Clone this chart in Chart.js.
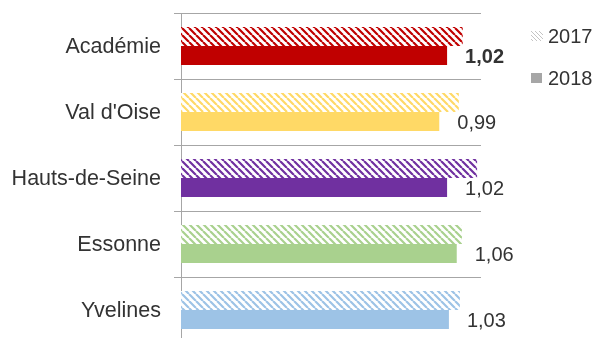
<!DOCTYPE html>
<html>
<head>
<meta charset="utf-8">
<script src="https://cdn.jsdelivr.net/npm/chart.js@4/dist/chart.umd.min.js"></script>
<style>
  html, body { margin: 0; padding: 0; background: #fff; overflow: hidden; }
  #wrap { width: 596px; height: 338px; overflow: hidden; }
</style>
</head>
<body>
<div id="wrap"><canvas id="c" width="596" height="350" style="width:596px;height:350px"></canvas></div>
<script>
const categories = ['Académie', "Val d'Oise", 'Hauts-de-Seine', 'Essonne', 'Yvelines'];
const seriesNames = ['2017', '2018'];
const values2017 = [1.08, 1.065, 1.135, 1.077, 1.069];
const values2018 = [1.02, 0.99, 1.02, 1.057, 1.027];
const barColors = ['#C00000', '#FFD966', '#7030A0', '#A9D18E', '#9DC3E6'];

const FONT = 'Liberation Sans, Arial, sans-serif';
const TEXT = '#333333';
const GRID = '#a6a6a6';

function hatch(color, lw, s) {
  const c = document.createElement('canvas');
  c.width = s; c.height = s;
  const g = c.getContext('2d');
  g.fillStyle = '#ffffff';
  g.fillRect(0, 0, s, s);
  g.strokeStyle = color;
  g.lineWidth = lw;
  g.beginPath();
  for (const k of [-s, 0, s]) {
    g.moveTo(k, 0);
    g.lineTo(k + s, s);
  }
  g.stroke();
  return g.createPattern(c, 'repeat');
}

const hatchPatterns = barColors.map(c => hatch(c, 2.2, 7));

const valueLabels = {
  id: 'valueLabels',
  afterDatasetsDraw(chart) {
    const ctx = chart.ctx;
    const meta = chart.getDatasetMeta(1);
    ctx.save();
    ctx.textAlign = 'left';
    ctx.textBaseline = 'middle';
    ctx.fillStyle = TEXT;
    meta.data.forEach((el, i) => {
      ctx.font = (i === 0 ? 'bold ' : '') + '20px ' + FONT;
      const txt = values2018[i].toFixed(2).replace('.', ',');
      ctx.fillText(txt, el.x + 18, el.y + 2);
    });
    ctx.restore();
  }
};

const sideLegend = {
  id: 'sideLegend',
  afterDraw(chart) {
    const ctx = chart.ctx;
    ctx.save();
    const x0 = 531;
    const ys = [36, 78];
    ctx.fillStyle = hatch('#c4c4c4', 1, 4);
    ctx.fillRect(x0, ys[0] - 5, 12, 10);
    ctx.fillStyle = GRID;
    ctx.fillRect(x0, ys[1] - 5, 11, 10);
    ctx.fillStyle = TEXT;
    ctx.font = '20px ' + FONT;
    ctx.textAlign = 'left';
    ctx.textBaseline = 'middle';
    seriesNames.forEach((n, i) => ctx.fillText(n, 548, ys[i] + 1));
    ctx.restore();
  }
};

new Chart(document.getElementById('c'), {
  type: 'bar',
  data: {
    labels: categories,
    datasets: [
      { label: seriesNames[0], data: values2017, backgroundColor: hatchPatterns,
        borderWidth: 0, categoryPercentage: 0.575, barPercentage: 1 },
      { label: seriesNames[1], data: values2018, backgroundColor: barColors,
        borderWidth: 0, categoryPercentage: 0.575, barPercentage: 1 }
    ]
  },
  options: {
    indexAxis: 'y',
    responsive: false,
    animation: false,
    devicePixelRatio: 1,
    layout: { padding: { top: 13, bottom: 7, left: 0, right: 115 } },
    plugins: { legend: { display: false }, tooltip: { enabled: false } },
    scales: {
      x: { display: false, min: 0, max: 1.15 },
      y: {
        afterFit(scale) { scale.width = 181; scale.paddingTop = 0; scale.paddingBottom = 0; },
        grid: { offset: true, color: GRID, lineWidth: 1, drawTicks: true, tickLength: 7 },
        border: { color: GRID, width: 1 },
        ticks: { color: TEXT, font: { family: FONT, size: 21.5 }, padding: 13, labelOffset: 1.5 }
      }
    }
  },
  plugins: [valueLabels, sideLegend]
});
</script>
</body>
</html>
